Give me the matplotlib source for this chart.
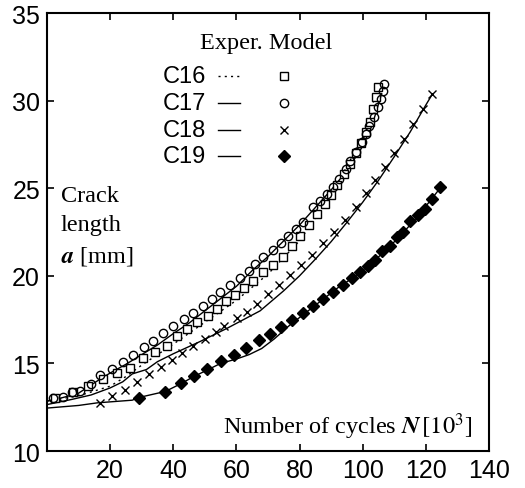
import matplotlib
matplotlib.use("Agg")
import matplotlib.pyplot as plt

plt.rcParams["mathtext.fontset"] = "stix"

# ---------------- data ----------------
c16_exp_x = [2.5, 8.1, 13.1, 17.8, 22.1, 26.3, 30.3, 34.2, 37.9, 41.1, 44.5, 47.6, 50.9, 53.8, 56.8,
             59.6, 62.4, 65.3, 68.3, 71.5, 74.6, 77.5, 80.2, 83.0, 85.5, 88.0, 90.0, 92.0, 94.0,
             96.0, 97.8, 99.4, 100.9, 102.2, 103.3, 104.1, 104.8]
c16_exp_y = [13.0, 13.35, 13.73, 14.11, 14.45, 14.72, 15.29, 15.67, 16.0, 16.55, 16.96, 17.36, 17.72,
             18.1, 18.55, 18.9, 19.32, 19.72, 20.2, 20.6, 21.1, 21.7, 22.3, 22.9, 23.5, 24.1, 24.6,
             25.2, 25.8, 26.4, 27.0, 27.6, 28.2, 28.8, 29.5, 30.2, 30.8]

c17_exp_x = [2.0, 5.2, 7.8, 10.5, 13.8, 16.8, 20.5, 24.0, 27.3, 30.7, 33.7, 36.8, 40.0, 43.5, 46.2,
             49.3, 52.3, 54.8, 58.1, 61.0, 64.0, 66.0, 68.5, 71.5, 74.0, 76.4, 78.9, 81.2, 84.2,
             86.5, 88.6, 90.7, 92.6, 94.7, 96.0, 97.9, 99.7, 101.0, 102.1, 103.6, 104.9, 105.7,
             106.5, 106.7]
c17_exp_y = [13.0, 13.06, 13.38, 13.44, 13.82, 14.34, 14.68, 15.1, 15.48, 15.92, 16.3, 16.74, 17.11,
             17.53, 17.87, 18.29, 18.69, 19.08, 19.47, 19.9, 20.27, 20.69, 21.05, 21.49, 21.88,
             22.27, 22.65, 23.09, 23.91, 24.29, 24.67, 25.05, 25.53, 26.1, 26.57, 27.05, 27.62,
             28.1, 28.57, 29.05, 29.62, 30.09, 30.57, 30.92]

c18_exp_x = [16.8, 20.5, 24.7, 28.4, 32.3, 36.1, 39.5, 42.9, 46.3, 50.0, 53.5, 56.1, 60.1, 63.3,
             66.6, 70.0, 73.5, 77.0, 80.5, 84.0, 87.5, 91.0, 94.5, 98.0, 101.0, 104.0, 107.0,
             110.0, 113.0, 116.0, 119.0, 122.0]
c18_exp_y = [12.74, 13.16, 13.5, 13.96, 14.39, 14.8, 15.21, 15.58, 16.0, 16.39, 16.77, 17.12, 17.57,
             17.95, 18.39, 18.95, 19.5, 20.05, 20.6, 21.2, 21.85, 22.5, 23.2, 23.95, 24.7, 25.45,
             26.2, 27.0, 27.8, 28.65, 29.5, 30.4]

c19_exp_x = [29.0, 37.5, 42.5, 46.5, 50.6, 55.0, 59.1, 63.1, 67.2, 70.6, 74.0, 77.5, 81.0, 84.2,
             87.5, 90.7, 93.7, 96.5, 99.1, 101.8, 103.9, 106.0, 108.6, 110.8, 112.9, 115.0, 117.6,
             119.7, 121.9, 124.5]
c19_exp_y = [13.03, 13.39, 13.88, 14.3, 14.68, 15.12, 15.5, 15.9, 16.35, 16.68, 17.1, 17.5, 17.88,
             18.29, 18.7, 19.1, 19.45, 19.9, 20.2, 20.58, 20.9, 21.4, 21.72, 22.2, 22.5, 23.1,
             23.45, 23.8, 24.38, 25.05]

c16_mod_x = [0, 10, 20, 25, 30, 40, 50, 60, 70, 80, 90, 100, 104.5]
c16_mod_y = [12.85, 13.15, 13.7, 14.25, 14.9, 16.1, 17.35, 18.6, 20.1, 22.0, 24.6, 27.9, 30.6]

c17_mod_x = [0, 5, 10, 16.8, 20, 25, 30, 35, 40, 45, 50, 55, 60, 65, 70, 75, 80, 85, 90, 95,
             100, 103, 106]
c17_mod_y = [12.85, 13.05, 13.3, 14.1, 14.45, 14.95, 15.5, 16.05, 16.7, 17.3, 18.0, 18.7, 19.4,
             20.3, 21.1, 22.0, 22.9, 23.9, 24.9, 26.0, 27.4, 28.6, 30.4]

c18_mod_x = [0, 8, 14, 20, 24, 27, 31.5, 35, 40, 48.5, 57, 67.5, 75, 80, 85, 90, 95, 100, 105,
             110, 115, 120, 122]
c18_mod_y = [12.65, 12.95, 13.2, 13.6, 13.95, 14.4, 14.65, 15.1, 15.55, 16.25, 17.0, 18.0, 19.15,
             20.0, 20.95, 21.95, 23.05, 24.2, 25.45, 26.8, 28.2, 29.75, 30.35]

c19_mod_x = [0, 10, 16, 27, 29, 37.5, 42.5, 46.5, 50.5, 55, 60, 64, 68, 72, 77, 82, 87, 92, 97,
             102, 107, 112, 117, 121, 124.5]
c19_mod_y = [12.45, 12.6, 12.75, 12.9, 13.05, 13.4, 13.85, 14.25, 14.6, 15.0, 15.25, 15.5, 15.85,
             16.4, 17.2, 17.9, 18.6, 19.3, 19.9, 20.6, 21.4, 22.3, 23.3, 24.2, 25.0]

series_names = ["C16", "C17", "C18", "C19"]
x_ticks = [20, 40, 60, 80, 100, 120, 140]
y_ticks = [10, 15, 20, 25, 30, 35]

# ---------------- figure ----------------
fig = plt.figure(figsize=(5.25, 4.89), dpi=100)
ax = fig.add_axes([47/525, 1-452/489, (489-47)/525, (452-14)/489])

lw = 1.0
ax.plot(c16_mod_x, c16_mod_y, color="black", lw=lw, ls=(0, (1.5, 3)))
ax.plot(c17_mod_x, c17_mod_y, color="black", lw=lw)
ax.plot(c18_mod_x, c18_mod_y, color="black", lw=lw)
ax.plot(c19_mod_x, c19_mod_y, color="black", lw=lw)

ax.plot(c16_exp_x, c16_exp_y, ls="none", marker="s", ms=5.5, mfc="white", mec="black", mew=1.0)
ax.plot(c17_exp_x, c17_exp_y, ls="none", marker="o", ms=6, mfc="none", mec="black", mew=1.0)
ax.plot(c18_exp_x, c18_exp_y, ls="none", marker="x", ms=6, color="black", mew=1.0)
ax.plot(c19_exp_x, c19_exp_y, ls="none", marker="D", ms=6, color="black")

ax.set_xlim(0, 140)
ax.set_ylim(10, 35)
ax.set_xticks(x_ticks)
ax.set_yticks(y_ticks)
ax.tick_params(direction="in", length=5, width=1.2, top=True, right=True,
               labelsize=18, pad=5)
for lab in ax.get_xticklabels() + ax.get_yticklabels():
    lab.set_family(["Liberation Sans", "DejaVu Sans"])
for s in ax.spines.values():
    s.set_linewidth(1.5)

serif = ["Liberation Serif", "DejaVu Serif"]
sans = ["Liberation Sans", "DejaVu Sans"]

def px(x, y):
    return ((x - 47) / (489 - 47), (452 - y) / (452 - 14))

# legend-like block
ax.text(*px(200, 44), "Exper. Model", transform=ax.transAxes, fontsize=17.5,
        family=serif, va="center", ha="left")
row_y = [77, 104, 131, 157]
styles = [(0, (1.5, 3)), "-", "-", "-"]
marks = [("s", "white", 5.5), ("o", "none", 6), ("x", "black", 6), ("D", "black", 6)]
for name, yy, st, (mk, fc, ms) in zip(series_names, row_y, styles, marks):
    ax.text(*px(163, yy), name, transform=ax.transAxes, fontsize=17, family=sans,
            va="center", ha="left")
    x0, y0 = px(218, yy)
    x1, _ = px(240, yy)
    ax.plot([x0, x1], [y0, y0], transform=ax.transAxes, color="black", lw=lw, ls=st)
    mx, my = px(284, yy)
    if mk == "x":
        ax.plot([mx], [my], transform=ax.transAxes, marker=mk, ms=ms, color="black", mew=1.0)
    else:
        ax.plot([mx], [my], transform=ax.transAxes, marker=mk, ms=ms, mfc=fc,
                mec="black", mew=1.0, ls="none")

ax.text(*px(61, 197), "Crack", transform=ax.transAxes, fontsize=17.5, family=serif,
        va="center", ha="left")
ax.text(*px(61, 225), "length", transform=ax.transAxes, fontsize=17.5, family=serif,
        va="center", ha="left")
ax.text(*px(61, 256), r"$\boldsymbol{a}$ [mm]", transform=ax.transAxes, fontsize=17.5,
        family=serif, va="center", ha="left")
ax.text(*px(472, 427), r"Number of cycles $\boldsymbol{N}\,[10^3]$", transform=ax.transAxes,
        fontsize=17.5, family=serif, va="center", ha="right")

fig.savefig("out.png", dpi=100)
